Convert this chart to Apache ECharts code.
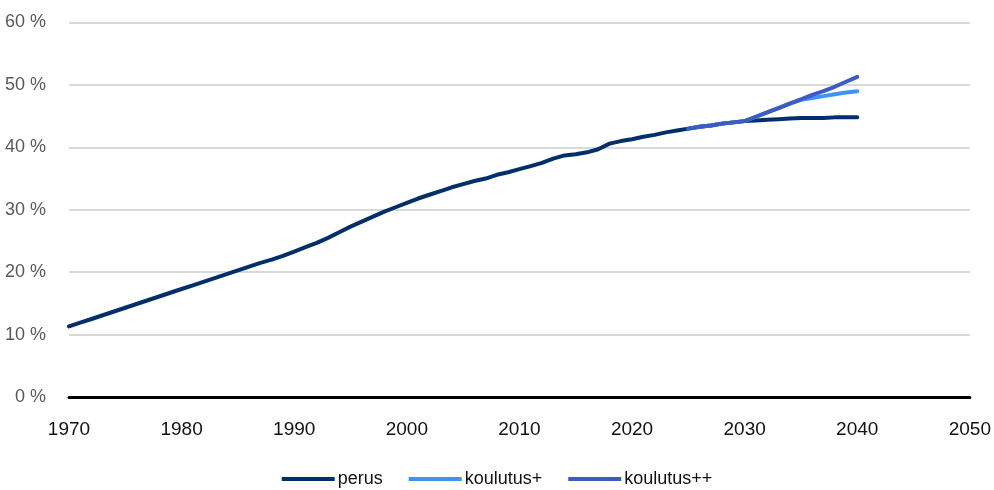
<!DOCTYPE html>
<html>
<head>
<meta charset="utf-8">
<script src="https://cdn.jsdelivr.net/npm/echarts@6/dist/echarts.min.js"></script>
<style>html,body{margin:0;padding:0;background:#fff}#c{width:994px;height:490px}</style>
</head>
<body>
<div id="c"></div>
<script>
const years = [];
for (let y = 1970; y <= 2040; y++) years.push(y);
const perus = [11.3,11.9,12.5,13.1,13.7,14.3,14.9,15.5,16.1,16.7,
  17.3,17.9,18.5,19.1,19.7,20.3,20.9,21.5,22.0,22.6,
  23.3,24.0,24.7,25.5,26.4,27.3,28.1,28.9,29.7,30.4,
  31.1,31.8,32.4,33.0,33.6,34.1,34.6,35.0,35.6,36.0,
  36.5,37.0,37.5,38.2,38.7,38.9,39.2,39.7,40.6,41.0,
  41.3,41.7,42.0,42.4,42.7,43.0,43.3,43.5,43.8,44.0,
  44.2,44.3,44.4,44.5,44.6,44.7,44.7,44.7,44.8,44.8,44.8];
const kYears = [2025,2026,2027,2028,2029,2030,2031,2032,2033,2034,2035,2036,2037,2038,2039,2040];
const koulutus1 = [43.0,43.3,43.5,43.8,44.0,44.2,44.9,45.6,46.3,47.0,47.6,47.9,48.2,48.5,48.8,49.0];
const koulutus2 = [43.0,43.3,43.5,43.8,44.0,44.2,44.9,45.6,46.3,47.0,47.7,48.4,49.0,49.7,50.5,51.3];
const xTicks = [1970,1980,1990,2000,2010,2020,2030,2040,2050];
const yTicks = [0,10,20,30,40,50,60];
const names = ['perus','koulutus+','koulutus++'];
const colors = ['#002f6c','#3d94f6','#3b5cc4'];

const font = '"Liberation Sans",Arial,sans-serif';
const zip = (xs, vs) => xs.map((x, i) => [x, vs[i]]);

const chart = echarts.init(document.getElementById('c'), null, {renderer: 'canvas'});
chart.setOption({
  animation: false,
  backgroundColor: '#fff',
  grid: {left: 69, right: 22, top: 22.5, bottom: 93, containLabel: false},
  legend: {
    left: 'center', top: 465,
    itemWidth: 53, itemHeight: 4, itemGap: 26,
    icon: 'rect',
    textStyle: {fontFamily: font, fontSize: 18, color: '#111', padding: [0,0,0,-2]},
    data: names
  },
  xAxis: {
    type: 'value', min: xTicks[0], max: xTicks[xTicks.length-1], interval: 10,
    axisLine: {show: true, onZero: true, lineStyle: {color: '#000', width: 3}},
    axisTick: {show: false},
    splitLine: {show: false},
    axisLabel: {fontFamily: font, fontSize: 19, color: '#111', margin: 23,
      formatter: v => xTicks.includes(v) ? String(v) : ''}
  },
  yAxis: {
    type: 'value', min: yTicks[0], max: yTicks[yTicks.length-1], interval: 10,
    axisLine: {show: false}, axisTick: {show: false},
    splitLine: {lineStyle: {color: '#d9d9d9', width: 2}},
    axisLabel: {fontFamily: font, fontSize: 18, color: '#595959', margin: 23,
      formatter: v => v + ' %'}
  },
  series: [
    {name: names[0], type: 'line', data: zip(years, perus), showSymbol: false, symbol: 'none',
     lineStyle: {color: colors[0], width: 4, cap: 'round'}, itemStyle: {color: colors[0]}, z: 2},
    {name: names[1], type: 'line', data: zip(kYears, koulutus1), showSymbol: false, symbol: 'none',
     lineStyle: {color: colors[1], width: 4, cap: 'round'}, itemStyle: {color: colors[1]}, z: 3},
    {name: names[2], type: 'line', data: zip(kYears, koulutus2), showSymbol: false, symbol: 'none',
     lineStyle: {color: colors[2], width: 4, cap: 'round'}, itemStyle: {color: colors[2]}, z: 4}
  ]
});
</script>
</body>
</html>
